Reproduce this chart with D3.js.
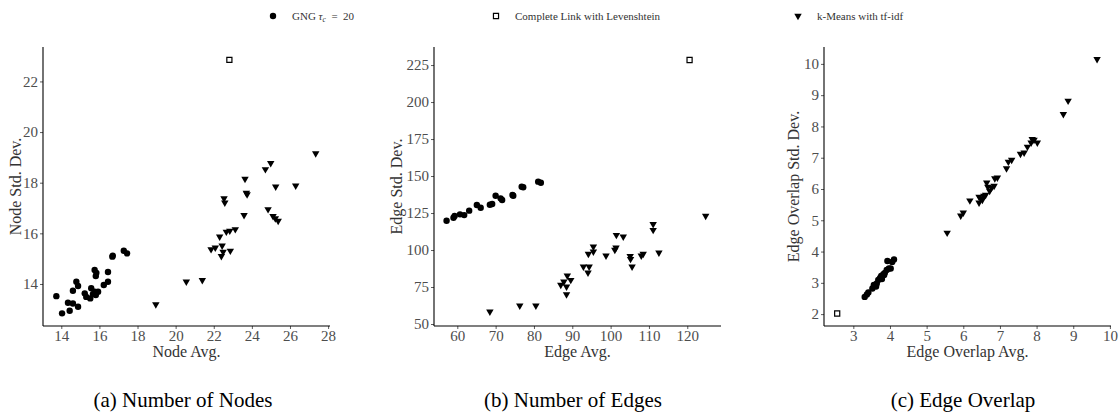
<!DOCTYPE html>
<html>
<head>
<meta charset="utf-8">
<script src="https://cdn.jsdelivr.net/npm/d3@7"></script>
<style>
  body { margin: 0; background: #fff; }
  svg { display: block; }
  text { font-family: "Liberation Serif", "DejaVu Serif", "Noto Serif", serif; }
</style>
</head>
<body>
<svg id="chart" width="1119" height="412"></svg>
<script>
// series labels
const seriesNames = ["GNG", "Complete Link with Levenshtein", "k-Means with tf-idf"];

// (a) number of nodes: [avg, std dev]
const nodesGng = [
  [13.74, 13.52], [14.04, 12.84], [14.44, 12.94], [14.35, 13.26], [14.61, 13.23],
  [14.88, 13.10], [14.61, 13.73], [14.79, 14.09], [14.88, 13.92], [15.23, 13.63],
  [15.31, 13.49], [15.52, 13.43], [15.57, 13.83], [15.75, 13.69], [15.93, 13.69],
  [15.81, 13.56], [15.66, 13.60], [15.75, 14.55], [15.84, 14.44], [15.81, 14.31],
  [16.23, 13.96], [16.45, 14.09], [16.45, 14.47], [16.68, 15.08], [16.70, 15.12],
  [17.28, 15.31], [17.45, 15.21]
];
const nodesComplete = [[22.82, 22.85]];
const nodesKmeans = [
  [18.96, 13.19], [20.56, 14.09], [21.40, 14.15], [21.86, 15.37], [22.08, 15.43],
  [22.44, 15.51], [22.49, 15.27], [22.40, 15.10], [22.87, 15.31], [22.31, 15.87],
  [22.66, 16.06], [22.84, 16.10], [23.13, 16.16], [23.59, 16.72], [22.54, 17.38],
  [22.58, 17.21], [23.64, 18.15], [23.71, 17.60], [23.75, 17.54], [24.71, 18.53],
  [24.99, 18.77], [24.85, 16.95], [25.11, 16.68], [25.23, 16.59], [25.38, 16.49],
  [25.25, 17.84], [26.30, 17.88], [27.35, 19.16]
];

// (b) number of edges
const edgesGng = [
  [57.2, 119.8], [59.0, 121.8], [59.3, 123.0], [60.7, 124.1], [61.8, 123.6],
  [63.1, 126.6], [65.1, 130.4], [66.1, 128.6], [68.5, 130.6], [69.1, 131.1],
  [70.0, 136.7], [71.3, 134.9], [71.7, 133.8], [74.4, 137.2], [74.6, 136.7],
  [76.8, 142.8], [77.2, 142.4], [81.1, 146.2], [81.8, 145.5]
];
const edgesComplete = [[120.6, 228.4]];
const edgesKmeans = [
  [68.5, 58.3], [76.3, 62.4], [80.5, 62.4], [87.0, 76.4], [87.8, 78.6],
  [88.5, 75.2], [88.7, 82.6], [89.6, 79.7], [88.5, 70.0], [92.9, 88.7],
  [94.4, 88.7], [94.1, 84.7], [94.2, 97.3], [95.5, 102.3], [95.5, 98.9],
  [98.8, 96.2], [101.1, 100.0], [101.4, 101.6], [101.5, 110.1], [103.3, 109.0],
  [105.1, 95.9], [105.2, 93.9], [105.6, 88.7], [108.0, 96.2], [108.5, 97.3],
  [111.1, 117.4], [111.1, 113.5], [112.6, 98.2], [124.8, 123.0]
];

// (c) edge overlap
const overlapGng = [
  [3.31, 2.55], [3.37, 2.63], [3.41, 2.69], [3.52, 2.82], [3.56, 2.93],
  [3.64, 2.98], [3.68, 3.09], [3.73, 3.16], [3.76, 3.22], [3.82, 3.28],
  [3.86, 3.32], [3.91, 3.41], [3.97, 3.46], [4.02, 3.46], [3.93, 3.70],
  [4.11, 3.75], [4.06, 3.67], [3.62, 2.88], [3.78, 3.12], [3.84, 3.25]
];
const overlapComplete = [[2.56, 2.02]];
const overlapKmeans = [
  [5.56, 4.60], [5.93, 5.15], [6.00, 5.24], [6.18, 5.63], [6.43, 5.56],
  [6.43, 5.75], [6.47, 5.70], [6.52, 5.65], [6.56, 5.78], [6.61, 5.81],
  [6.64, 6.20], [6.67, 6.07], [6.72, 5.94], [6.77, 6.04], [6.84, 6.10],
  [6.86, 6.34], [6.93, 6.36], [7.18, 6.66], [7.23, 6.87], [7.32, 6.93],
  [7.56, 7.12], [7.66, 7.16], [7.75, 7.35], [7.85, 7.48], [7.88, 7.59],
  [7.93, 7.57], [8.02, 7.48], [8.73, 8.39], [8.86, 8.82], [9.65, 10.15]
];

// ticks
const nodeTicksX = [14, 16, 18, 20, 22, 24, 26, 28];
const nodeTicksY = [14, 16, 18, 20, 22];
const edgeTicksX = [60, 70, 80, 90, 100, 110, 120];
const edgeTicksY = [50, 75, 100, 125, 150, 175, 200, 225];
const overlapTicksX = [3, 4, 5, 6, 7, 8, 9, 10];
const overlapTicksY = [2, 3, 4, 5, 6, 7, 8, 9, 10];

const panels = [
  { left: 43, right: 330, xDomain: [13.04, 28.1], yDomain: [12.34, 23.36],
    xTicks: nodeTicksX, yTicks: nodeTicksY, xTitle: "Node Avg.", yTitle: "Node Std. Dev.",
    yTitleX: 15, caption: "(a) Number of Nodes", captionX: 183,
    series: [nodesGng, nodesComplete, nodesKmeans] },
  { left: 434, right: 721, xDomain: [53.92, 128.8], yDomain: [48.65, 237.2],
    xTicks: edgeTicksX, yTicks: edgeTicksY, xTitle: "Edge Avg.", yTitle: "Edge Std. Dev.",
    yTitleX: 396, caption: "(b) Number of Edges", captionX: 573,
    series: [edgesGng, edgesComplete, edgesKmeans] },
  { left: 824, right: 1111, xDomain: [2.2, 10.03], yDomain: [1.62, 10.54],
    xTicks: overlapTicksX, yTicks: overlapTicksY, xTitle: "Edge Overlap Avg.", yTitle: "Edge Overlap Std. Dev.",
    yTitleX: 793, caption: "(c) Edge Overlap", captionX: 963,
    series: [overlapGng, overlapComplete, overlapKmeans] }
];

const plotTop = 47, plotBottom = 326;
const svg = d3.select("#chart");

const triangle = d3.symbol().type(d3.symbolTriangle).size(24);
const square = d3.symbol().type(d3.symbolSquare).size(26);

function drawMark(g, kind, x, y) {
  if (kind === 0) {
    g.append("circle").attr("cx", x).attr("cy", y).attr("r", 3.2).attr("fill", "#000");
  } else if (kind === 1) {
    g.append("path").attr("d", square()).attr("transform", `translate(${x},${y})`)
      .attr("fill", "#fff").attr("stroke", "#000").attr("stroke-width", 1.2);
  } else {
    g.append("path").attr("d", triangle()).attr("transform", `translate(${x},${y}) rotate(180)`)
      .attr("fill", "#000");
  }
}

panels.forEach(p => {
  const x = d3.scaleLinear().domain(p.xDomain).range([p.left, p.right]);
  const y = d3.scaleLinear().domain(p.yDomain).range([plotBottom, plotTop]);

  const g = svg.append("g");

  const xAxis = g.append("g")
    .attr("transform", `translate(0,${plotBottom})`)
    .call(d3.axisBottom(x).tickValues(p.xTicks).tickSize(3).tickPadding(1).tickFormat(d3.format("d")));
  const yAxis = g.append("g")
    .attr("transform", `translate(${p.left},0)`)
    .call(d3.axisLeft(y).tickValues(p.yTicks).tickSize(3).tickPadding(2).tickFormat(d3.format("d")));

  [xAxis, yAxis].forEach(ax => {
    ax.select(".domain").remove();
    ax.selectAll(".tick line").attr("stroke", "#333").attr("stroke-width", 0.8);
    ax.selectAll(".tick text").attr("font-size", 15).attr("fill", "#4d4d4d");
  });

  g.append("line").attr("x1", p.left).attr("x2", p.right).attr("y1", plotBottom).attr("y2", plotBottom)
    .attr("stroke", "#000").attr("stroke-width", 1.1);
  g.append("line").attr("x1", p.left).attr("x2", p.left).attr("y1", plotTop).attr("y2", plotBottom)
    .attr("stroke", "#000").attr("stroke-width", 1.1);

  g.append("text")
    .attr("x", (p.left + p.right) / 2).attr("y", 357)
    .attr("text-anchor", "middle").attr("font-size", 16)
    .attr("fill", "#333").text(p.xTitle);

  g.append("text")
    .attr("transform", `translate(${p.yTitleX},${(plotTop + plotBottom) / 2}) rotate(-90)`)
    .attr("text-anchor", "middle").attr("dy", "0.35em").attr("font-size", 16)
    .attr("fill", "#333").text(p.yTitle);

  g.append("text")
    .attr("x", p.captionX).attr("y", 407)
    .attr("text-anchor", "middle").attr("font-size", 21)
    .attr("fill", "#000").text(p.caption);

  const marks = g.append("g");
  // draw order: GNG, Complete Link, k-Means
  p.series.forEach((pts, k) => {
    pts.forEach(d => drawMark(marks, k, x(d[0]), y(d[1])));
  });
});

// legend
const legend = svg.append("g").attr("font-size", 11).attr("fill", "#333");
const legendX = [273, 496, 798];
legendX.forEach((lx, k) => {
  drawMark(legend, k, lx, 16);
  const t = legend.append("text").attr("x", lx + 19).attr("y", 19.5);
  if (k === 0) {
    t.append("tspan").text(seriesNames[0] + " ");
    t.append("tspan").attr("font-style", "italic").text("τ");
    t.append("tspan").attr("font-style", "italic").attr("font-size", 7.5).attr("dy", 2).text("c");
    t.append("tspan").attr("dy", -2).text("\u2002=\u200220");
  } else {
    t.text(seriesNames[k]);
  }
});
</script>
</body>
</html>
